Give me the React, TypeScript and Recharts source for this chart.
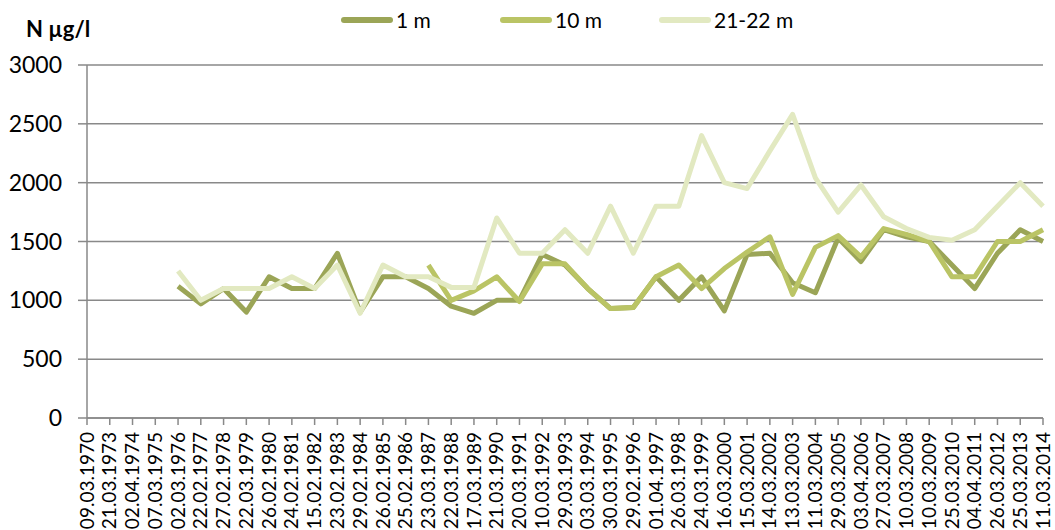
import React from 'react'
import { LineChart, Line, XAxis, YAxis, CartesianGrid, Legend } from 'recharts'

const dates = [
  '09.03.1970', '21.03.1973', '02.04.1974', '07.03.1975', '02.03.1976', '22.02.1977', '27.02.1978',
  '22.03.1979', '26.02.1980', '24.02.1981', '15.02.1982', '23.02.1983', '29.02.1984', '26.02.1985',
  '25.02.1986', '23.03.1987', '22.03.1988', '17.03.1989', '21.03.1990', '20.03.1991', '10.03.1992',
  '29.03.1993', '03.03.1994', '30.03.1995', '29.02.1996', '01.04.1997', '26.03.1998', '24.03.1999',
  '16.03.2000', '15.03.2001', '14.03.2002', '13.03.2003', '11.03.2004', '29.03.2005', '03.04.2006',
  '27.03.2007', '10.03.2008', '10.03.2009', '25.03.2010', '04.04.2011', '26.03.2012', '25.03.2013',
  '11.03.2014',
]

const depth1m = [
  null, null, null, null, 1120, 970, 1100, 900, 1200, 1100, 1100, 1400, 900, 1200, 1200, 1100, 950, 890,
  1000, 1000, 1390, 1300, 1100, 930, 940, 1200, 1000, 1200, 910, 1390, 1400, 1150, 1065, 1530, 1330, 1600,
  1540, 1500, 1300, 1100, 1400, 1600, 1500,
]

const depth10m = [
  null, null, null, null, null, null, null, null, null, null, null, null, null, null, null, 1300, 1000, 1080,
  1200, 990, 1310, 1310, 1100, 930, 940, 1200, 1300, 1100, 1270, 1410, 1540, 1050, 1450, 1550, 1370, 1610,
  1560, 1500, 1200, 1200, 1500, 1500, 1600,
]

const depth21m = [
  null, null, null, null, 1250, 1000, 1100, 1100, 1100, 1200, 1100, 1300, 890, 1300, 1200, 1200, 1110, 1110,
  1700, 1400, 1400, 1600, 1400, 1800, 1400, 1800, 1800, 2400, 2000, 1950, 2270, 2580, 2040, 1750, 1980, 1710,
  1610, 1535, 1510, 1600, 1800, 2000, 1800,
]

const yTicks = [0, 500, 1000, 1500, 2000, 2500, 3000]

const series = [
  { key: 'd1', name: '1 m', color: '#9ba557' },
  { key: 'd10', name: '10 m', color: '#bac465' },
  { key: 'd21', name: '21-22 m', color: '#e2e9c1' },
]

const data = dates.map((date, i) => ({
  date,
  d1: depth1m[i],
  d10: depth10m[i],
  d21: depth21m[i],
}))

const GRID = '#898989'

function DateTick({ x, y, payload }: any) {
  return (
    <text
      x={x}
      y={y}
      transform={`rotate(-90, ${x}, ${y})`}
      textAnchor="end"
      dy="0.35em"
      fontSize={19}
      fill="#000"
    >
      {payload.value}
    </text>
  )
}

function LegendContent({ payload }: any) {
  return (
    <div style={{ display: 'flex', paddingLeft: 341 }}>
      {(payload || []).map((p: any) => (
        <div key={p.value} style={{ width: 159, display: 'flex', alignItems: 'center' }}>
          <span
            style={{ display: 'inline-block', width: 52, height: 6, borderRadius: 3, background: p.color, marginRight: 3 }}
          />
          <span style={{ fontSize: 21, color: '#000' }}>{p.value}</span>
        </div>
      ))}
    </div>
  )
}

export default function App() {
  return (
    <div style={{ position: 'absolute', left: 0, top: 0, width: 1055, height: 530, fontFamily: 'Lato', background: '#fff' }}>
      <div style={{ position: 'absolute', left: 26, top: 15, fontSize: 22, fontWeight: 'bold', color: '#000' }}>
        N µg/l
      </div>
      <LineChart width={1055} height={530} data={data} margin={{ top: 65, right: 12, left: 0, bottom: 0 }}>
        <CartesianGrid vertical={false} stroke={GRID} strokeWidth={1.5} />
        <XAxis
          dataKey="date"
          interval={0}
          height={112}
          tickSize={7}
          tickMargin={7}
          tick={<DateTick />}
          axisLine={{ stroke: GRID, strokeWidth: 1.5 }}
          tickLine={{ stroke: GRID, strokeWidth: 1.5 }}
        />
        <YAxis
          domain={[0, 3000]}
          ticks={yTicks}
          interval={0}
          width={87}
          tickSize={9}
          tickMargin={16}
          tick={{ fill: '#000', fontSize: 23 }}
          axisLine={{ stroke: GRID, strokeWidth: 1.5 }}
          tickLine={{ stroke: GRID, strokeWidth: 1.5 }}
        />
        <Legend
          layout="horizontal"
          verticalAlign="middle"
          align="center"
          wrapperStyle={{ position: 'absolute', top: 7, left: 0, width: 1055 }}
          content={<LegendContent />}
        />
        {series.map((s) => (
          <Line
            key={s.key}
            type="linear"
            dataKey={s.key}
            name={s.name}
            stroke={s.color}
            strokeWidth={5}
            strokeLinejoin="round"
            dot={false}
            activeDot={false}
            isAnimationActive={false}
          />
        ))}
      </LineChart>
    </div>
  )
}
